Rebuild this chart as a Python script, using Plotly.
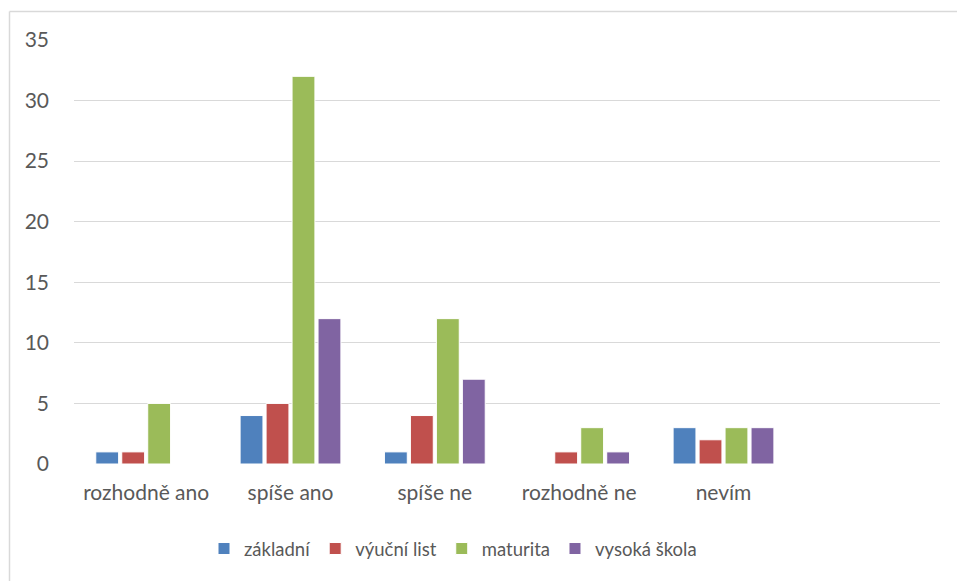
import plotly.graph_objects as go

categories = ["rozhodně ano", "spíše ano", "spíše ne", "rozhodně ne", "nevím"]
zakladni = [1, 4, 1, 0, 3]
vyucni_list = [1, 5, 4, 1, 2]
maturita = [5, 32, 12, 3, 3]
vysoka_skola = [0, 12, 7, 1, 3]
y_ticks = [0, 5, 10, 15, 20, 25, 30, 35]

series = [
    ("základní", zakladni, "#4F81BD"),
    ("výuční list", vyucni_list, "#C0504D"),
    ("maturita", maturita, "#9BBB59"),
    ("vysoká škola", vysoka_skola, "#8064A2"),
]

fig = go.Figure()
for name, vals, color in series:
    fig.add_trace(go.Bar(
        x=categories, y=vals, name=name,
        marker=dict(color=color, line=dict(color="white", width=1)),
    ))

W, H = 957, 581
L, T = 74, 40
R = W - 940
B = H - 464
pw, ph = W - L - R, H - T - B

def px(x):
    return (x - L) / pw

def py(y):
    return (H - B - y) / ph

fig.update_layout(
    width=W, height=H,
    margin=dict(l=L, r=R, t=T, b=B),
    paper_bgcolor="white", plot_bgcolor="white",
    barmode="group", bargap=0.28, bargroupgap=0.12,
    font=dict(family="Lato, 'Open Sans', sans-serif", size=20, color="#595959"),
    showlegend=True,
    legend=dict(orientation="h", x=px(453), xanchor="center", y=py(549), yanchor="middle",
                font=dict(size=18.5, color="#595959"), traceorder="normal"),
    xaxis=dict(range=[-0.5, 5.5], showgrid=False, showline=False, zeroline=False,
               ticks="", ticklabelstandoff=14, tickfont=dict(size=21, color="#595959")),
    yaxis=dict(range=[0, 35], tickvals=y_ticks, showgrid=True, gridcolor="#D9D9D9",
               gridwidth=1, zeroline=False, showline=False, ticks="",
               ticklabelstandoff=24, tickfont=dict(size=21, color="#595959")),
    shapes=[
        dict(type="line", xref="paper", yref="paper", x0=px(9.5), x1=px(W), y0=py(11.5), y1=py(11.5),
             line=dict(color="#D9D9D9", width=1.5)),
        dict(type="line", xref="paper", yref="paper", x0=px(9.5), x1=px(9.5), y0=py(11.5), y1=py(H),
             line=dict(color="#D9D9D9", width=1.5)),
    ],
)

fig.write_html(
    "out.html",
    config={"displayModeBar": False},
    post_script="document.body.style.margin='0';document.body.style.overflow='hidden';",
)
